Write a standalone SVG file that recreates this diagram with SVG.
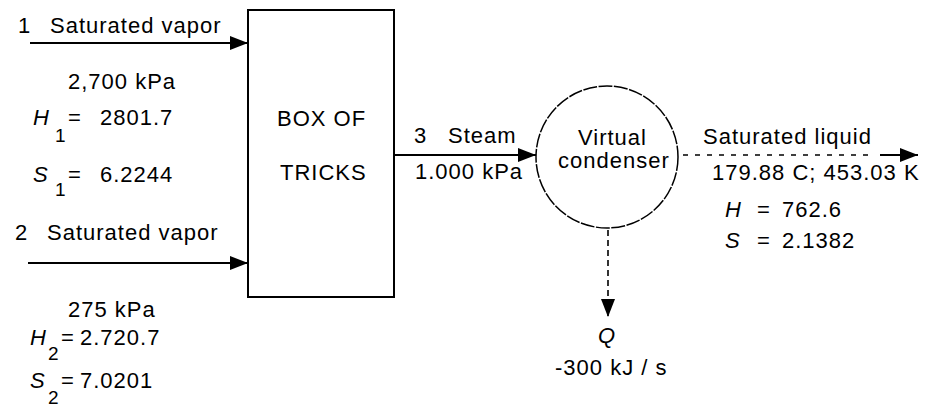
<svg xmlns="http://www.w3.org/2000/svg" width="928" height="407" viewBox="0 0 928 407">
<style>
text{font-family:"Liberation Sans",Arial,sans-serif;font-size:22px;letter-spacing:1px;fill:#000}
.it{font-style:italic}
.sub{font-size:19px}
.solid{stroke:#000;stroke-width:2;fill:none}
.dash{stroke:#000;stroke-width:1.6;fill:none;stroke-dasharray:5 7}
.vdash{stroke:#000;stroke-width:1.6;fill:none;stroke-dasharray:6 4}
</style>
<defs>
<marker id="ah" markerUnits="userSpaceOnUse" markerWidth="18" markerHeight="14" refX="18" refY="7" orient="auto">
<path d="M0,0 L18,7 L0,14 z" fill="#000"/>
</marker>
</defs>
<rect width="928" height="407" fill="#fff"/>
<g id="connectors">
<line class="solid" x1="30" y1="43" x2="248" y2="43" marker-end="url(#ah)"/>
<line class="solid" x1="28" y1="263" x2="248" y2="263" marker-end="url(#ah)"/>
<line class="solid" x1="394" y1="155" x2="536" y2="155" marker-end="url(#ah)"/>
<line class="dash" x1="683" y1="155" x2="872" y2="155"/>
<line class="solid" x1="880" y1="155" x2="918" y2="155" marker-end="url(#ah)"/>
<line class="vdash" x1="608" y1="230" x2="608" y2="317" marker-end="url(#ah)"/>
</g>
<g id="box">
<rect x="248" y="10" width="146" height="287" fill="none" stroke="#000" stroke-width="2"/>
<text x="277" y="126">BOX OF</text>
<text x="280" y="180">TRICKS</text>
</g>
<g id="condenser">
<circle cx="607" cy="157" r="71" fill="none" stroke="#000" stroke-width="1.5" stroke-dasharray="14 1.5"/>
<text x="578" y="145">Virtual</text>
<text x="558" y="168">condenser</text>
</g>
<g id="stream1">
<text x="18" y="33">1</text>
<text x="50" y="33">Saturated vapor</text>
<text x="68" y="89">2,700 kPa</text>
<text class="it" x="33" y="125">H</text><text class="sub" x="55" y="142">1</text>
<text x="68" y="125">=</text><text x="100" y="125">2801.7</text>
<text class="it" x="33" y="182">S</text><text class="sub" x="55" y="196">1</text>
<text x="68" y="182">=</text><text x="100" y="182">6.2244</text>
</g>
<g id="stream2">
<text x="15" y="240">2</text>
<text x="47" y="240">Saturated vapor</text>
<text x="68" y="317">275 kPa</text>
<text class="it" x="30" y="345">H</text><text class="sub" x="48" y="360">2</text>
<text x="61" y="345">=</text><text x="80" y="345">2.720.7</text>
<text class="it" x="30" y="388">S</text><text class="sub" x="48" y="404">2</text>
<text x="61" y="388">=</text><text x="80" y="388">7.0201</text>
</g>
<g id="stream3">
<text x="414" y="143">3</text>
<text x="448" y="143">Steam</text>
<text x="415" y="179">1.000 kPa</text>
</g>
<g id="liquid">
<text x="703" y="144">Saturated liquid</text>
<text x="712" y="180">179.88 C; 453.03 K</text>
<text class="it" x="725" y="217">H</text>
<text x="757" y="217">=</text><text x="782" y="217">762.6</text>
<text class="it" x="725" y="248">S</text>
<text x="757" y="248">=</text><text x="782" y="248">2.1382</text>
</g>
<g id="heat">
<text class="it" x="598" y="343">Q</text>
<text x="555" y="375">-300 kJ / s</text>
</g>
</svg>
